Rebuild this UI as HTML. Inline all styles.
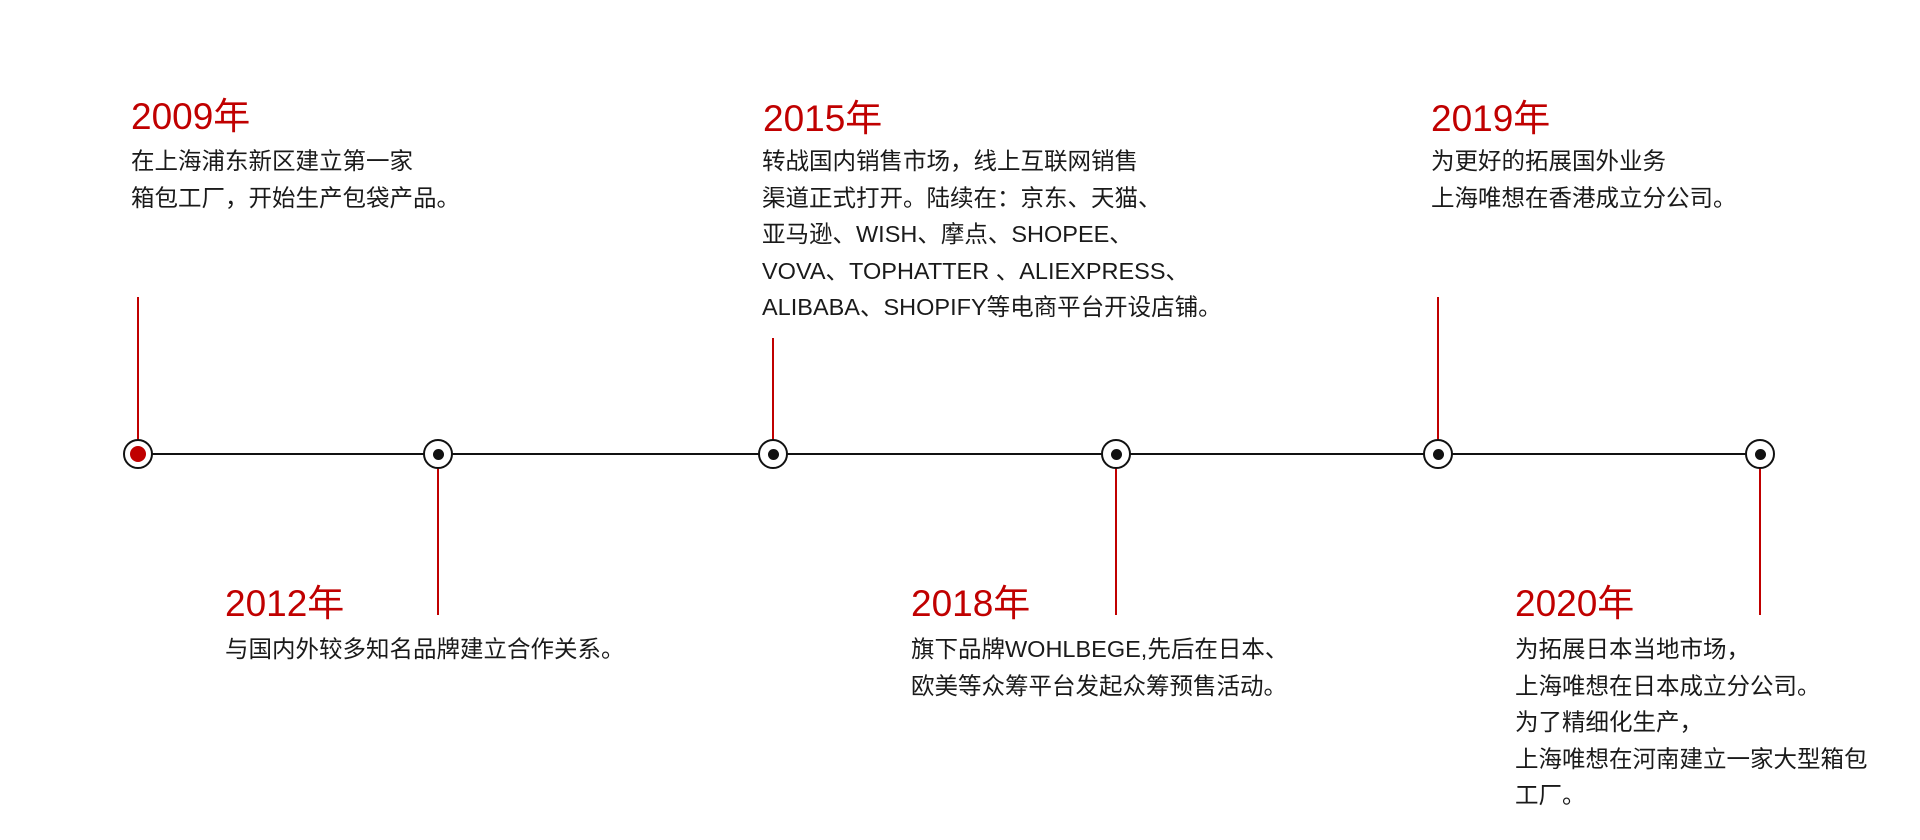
<!DOCTYPE html>
<html><head><meta charset="utf-8"><style>
body{margin:0;width:1920px;height:840px;background:#fff;position:relative;overflow:hidden;font-family:"Liberation Sans","Noto Sans CJK SC",sans-serif;}
.t{position:absolute;color:#c00000;font-size:37px;line-height:40px;white-space:nowrap}
.b{position:absolute;color:#1a1a1a;font-size:23.5px;line-height:36.5px;white-space:nowrap}
.v{position:absolute;width:2px;background:#c00000}
.n{position:absolute;width:30px;height:30px;border:2.5px solid #111;border-radius:50%;background:#fff;box-sizing:border-box}
.n::after{content:"";position:absolute;left:50%;top:50%;width:11px;height:11px;margin:-5.5px 0 0 -5.5px;border-radius:50%;background:#111}
.n.r::after{background:#c00000;width:16px;height:16px;margin:-8px 0 0 -8px}
</style></head><body>
<div style="position:absolute;left:138px;top:453px;width:1630px;height:2px;background:#111"></div>

<div class="v" style="left:137px;top:297px;height:145px"></div>
<div class="v" style="left:437px;top:462px;height:153px"></div>
<div class="v" style="left:772px;top:338px;height:105px"></div>
<div class="v" style="left:1115px;top:462px;height:153px"></div>
<div class="v" style="left:1437px;top:297px;height:145px"></div>
<div class="v" style="left:1759px;top:462px;height:153px"></div>

<div class="n r" style="left:123px;top:439px"></div>
<div class="n" style="left:423px;top:439px"></div>
<div class="n" style="left:758px;top:439px"></div>
<div class="n" style="left:1101px;top:439px"></div>
<div class="n" style="left:1423px;top:439px"></div>
<div class="n" style="left:1745px;top:439px"></div>

<div class="t" style="left:131px;top:97px">2009年</div>
<div class="b" style="left:131px;top:143px">在上海浦东新区建立第一家<br>箱包工厂，开始生产包袋产品。</div>

<div class="t" style="left:763px;top:99px">2015年</div>
<div class="b" style="left:762px;top:143px">转战国内销售市场，线上互联网销售<br>渠道正式打开。陆续在：京东、天猫、<br>亚马逊、WISH、摩点、SHOPEE、<br>VOVA、TOPHATTER 、ALIEXPRESS、<br>ALIBABA、SHOPIFY等电商平台开设店铺。</div>

<div class="t" style="left:1431px;top:99px">2019年</div>
<div class="b" style="left:1431px;top:143px">为更好的拓展国外业务<br>上海唯想在香港成立分公司。</div>

<div class="t" style="left:225px;top:584px">2012年</div>
<div class="b" style="left:225px;top:631px">与国内外较多知名品牌建立合作关系。</div>

<div class="t" style="left:911px;top:584px">2018年</div>
<div class="b" style="left:911px;top:631px">旗下品牌WOHLBEGE,先后在日本、<br>欧美等众筹平台发起众筹预售活动。</div>

<div class="t" style="left:1515px;top:584px">2020年</div>
<div class="b" style="left:1515px;top:631px">为拓展日本当地市场，<br>上海唯想在日本成立分公司。<br>为了精细化生产，<br>上海唯想在河南建立一家大型箱包<br>工厂。</div>
</body></html>
